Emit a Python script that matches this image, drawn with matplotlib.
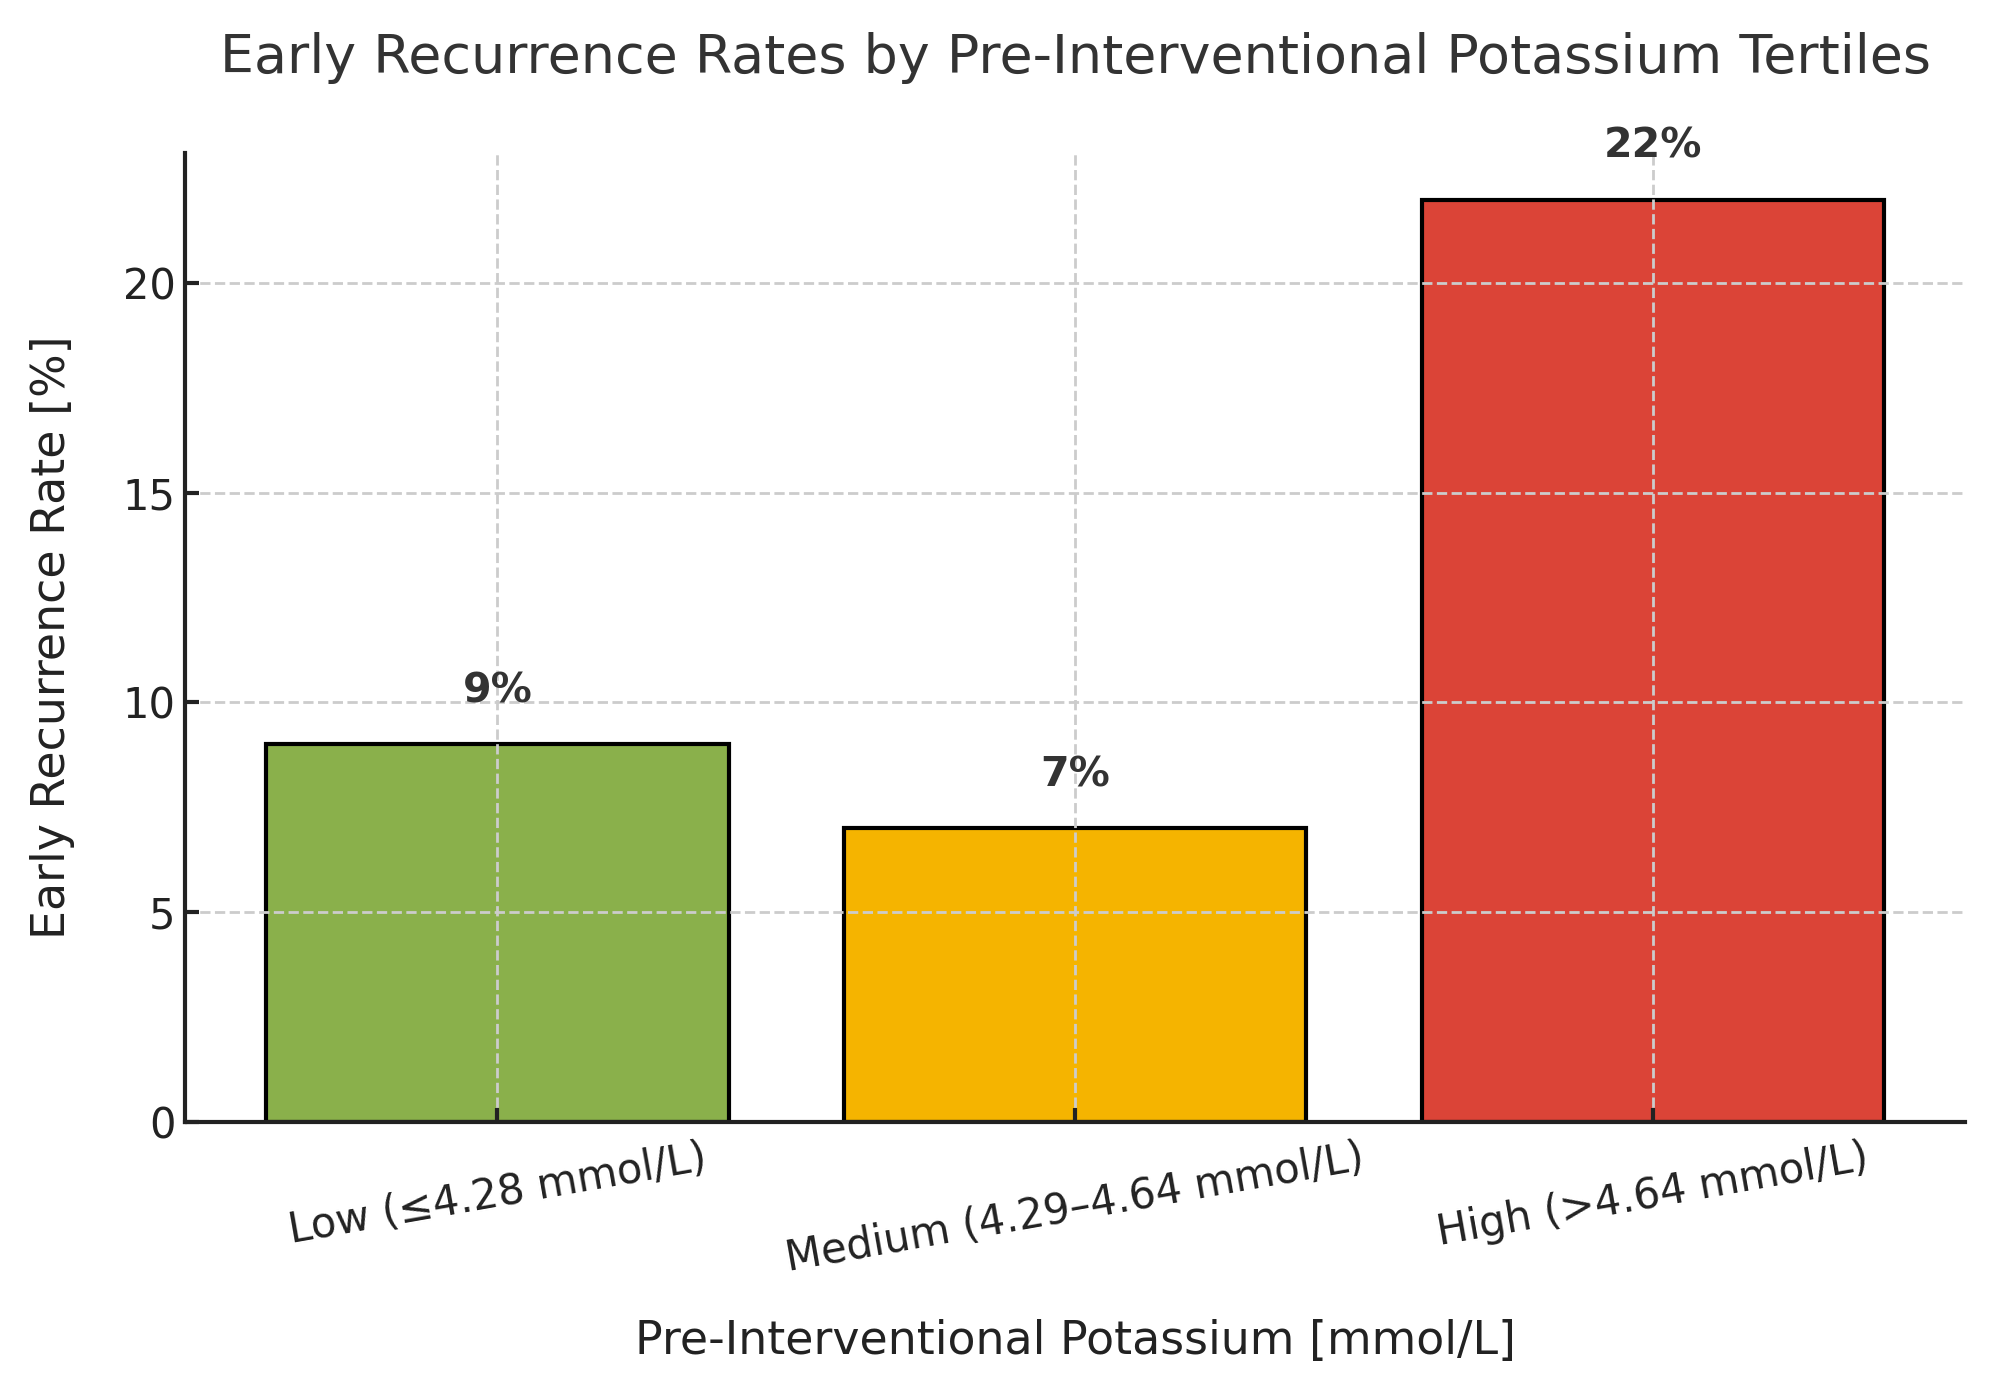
import matplotlib
matplotlib.use("Agg")
import matplotlib.pyplot as plt

categories = ["Low (≤4.28 mmol/L)", "Medium (4.29–4.64 mmol/L)", "High (>4.64 mmol/L)"]
rates = [9, 7, 22]
colors = ["#8AB04B", "#F5B400", "#DB4437"]

plt.rcParams['font.family'] = ['DejaVu Sans']

fig, ax = plt.subplots(figsize=(9.97, 6.975), dpi=200)
fig.subplots_adjust(left=0.093, right=0.9855, top=0.89, bottom=0.196)

x = range(len(categories))
bars = ax.bar(x, rates, color=colors, edgecolor="black", linewidth=1.5, width=0.8)

for b, v in zip(bars, rates):
    ax.text(b.get_x() + b.get_width() / 2, v + 1, f"{v}%", ha="center", va="baseline",
            fontsize=14.8, fontweight="bold", color="#333333")

ax.set_xticks(list(x))
ax.set_xticklabels(categories, rotation=10, fontsize=15, color="#222222")
ax.tick_params(axis="both", direction="in", length=5, width=1.5, colors="#222222", labelsize=15)
ax.tick_params(axis="x", pad=5.5)
ax.set_title("Early Recurrence Rates by Pre-Interventional Potassium Tertiles",
             fontsize=19.4, color="#333333", pad=29)
ax.set_xlabel("Pre-Interventional Potassium [mmol/L]", fontsize=16.5, color="#222222", labelpad=14)
ax.set_ylabel("Early Recurrence Rate [%]", fontsize=16.5, color="#222222", labelpad=17)

ax.grid(True, linestyle="--", color="#cccccc", linewidth=1)
for s in ["top", "right"]:
    ax.spines[s].set_visible(False)
for s in ["left", "bottom"]:
    ax.spines[s].set_linewidth(1.5)
    ax.spines[s].set_color("#222222")

fig.savefig("out.png", dpi=200)
